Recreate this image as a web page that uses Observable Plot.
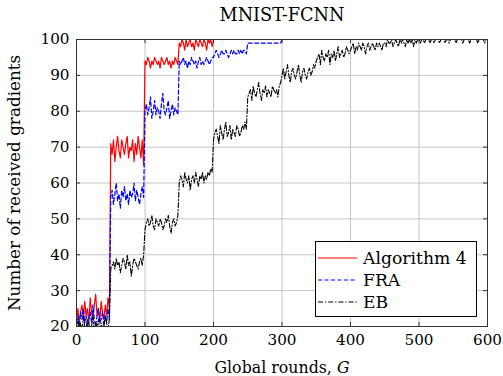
<!DOCTYPE html>
<html><head><meta charset="utf-8">
<script src="https://cdn.jsdelivr.net/npm/d3@7"></script>
<script src="https://cdn.jsdelivr.net/npm/@observablehq/plot@0.6"></script>
<style>
body{margin:0;background:#fff}
svg{display:block}
#chart svg, #chart svg text, #chart svg tspan, #chart svg g { font-family: "DejaVu Serif", serif !important; font-variant: normal !important; }
</style>
</head><body><div id="chart"></div>
<script>
const xTicks = [0, 100, 200, 300, 400, 500, 600];
const yTicks = [20, 30, 40, 50, 60, 70, 80, 90, 100];
const seriesNames = ["Algorithm 4", "FRA", "EB"];

// Algorithm 4: rounds 0..198 step 2, then 200 and 600
const alg4Rounds = [...d3.range(0, 200, 2), 200, 600];
const alg4 = [
  22,25,21,24,26,22,27,23,25,21,28,24,22,26,29,23,25,21,27,24,22,26,23,28,25,
  71,68,72,66,70,73,69,67,72,70,68,71,73,67,70,69,72,66,71,68,73,70,67,72,65,
  94,93,95,94,92,94,93,95,94,93,94,92,95,94,93,94,95,93,94,92,94,93,95,94,93,
  99,98,100,99,97,100,98,99,100,98,99,97,100,99,98,100,99,98,100,99,97,100,99,100,98,
  100,100
];

// FRA: rounds 0..298 step 2, then 300 and 600
const fraRounds = [...d3.range(0, 300, 2), 300, 600];
const fra = [
  21,23,20,24,22,25,21,23,20,22,24,21,26,22,20,23,25,21,22,24,20,23,21,25,22,
  56,58,54,57,60,55,57,53,58,56,59,55,57,54,58,56,57,60,55,58,56,54,57,59,56,
  80,82,79,81,84,78,80,83,79,81,80,78,82,85,80,79,81,83,78,80,82,79,81,80,79,
  94,93,94,95,93,94,92,94,93,95,94,93,94,92,94,95,93,94,93,94,95,94,93,94,95,
  95,96,97,96,95,96,97,96,96,97,96,95,96,97,96,97,96,96,97,96,97,96,97,97,96,
  99,99,99,99,99,99,99,99,99,99,99,99,99,99,99,99,99,99,99,99,99,99,99,99,99,
  100,100
];

// EB: rounds 0..598 step 2, then 600
const ebRounds = [...d3.range(0, 600, 2), 600];
const eb = [
  20,22,19,21,18,23,20,19,22,21,18,20,23,19,21,20,22,18,21,19,20,23,21,19,22,
  36,37,38,36,39,37,38,35,37,39,38,36,40,37,38,34,37,39,38,37,36,38,39,37,40,
  47,49,50,48,49,51,48,47,50,49,48,50,49,47,48,50,49,51,48,46,49,50,48,49,51,
  60,62,61,59,63,61,60,62,58,61,62,60,63,61,59,62,61,63,60,62,61,63,62,64,63,
  72,74,75,73,71,76,74,72,75,77,73,74,76,72,75,74,73,76,75,73,74,76,75,77,75,
  84,85,86,83,87,85,84,86,88,85,83,86,85,87,84,86,85,84,87,86,85,86,84,87,88,
  90,92,89,91,93,90,88,91,92,90,89,91,93,90,88,91,92,90,89,91,92,90,91,93,92,
  94,95,96,93,97,95,94,96,95,97,93,96,95,97,94,96,98,95,96,97,95,96,98,97,96,
  97,98,99,96,98,97,99,98,97,99,98,96,98,99,97,98,99,98,97,99,98,99,98,97,99,
  99,98,100,99,99,100,98,99,100,99,98,100,99,100,99,98,100,99,100,99,100,98,100,99,100,
  100,99,100,100,99,100,100,100,99,100,100,99,100,100,100,99,100,100,100,99,100,100,99,100,100,
  100,100,99,100,100,100,100,99,100,100,100,100,99,100,100,100,100,100,99,100,100,100,100,99,100,
  100
];

const toRows = (name, rounds, vals) => vals.map((v, i) => ({series: name, round: rounds[i], value: v}));
const alg4Data = toRows(seriesNames[0], alg4Rounds, alg4);
const fraData = toRows(seriesNames[1], fraRounds, fra);
const ebData = toRows(seriesNames[2], ebRounds, eb);

const W = 503, H = 376, mL = 76, mR = 16, mT = 39, mB = 50;
const fw = W - mL - mR, fh = H - mT - mB;
const gridColor = "#c4c4c4", axisColor = "#333";
const serif = "DejaVu Serif";

const styles = [
  {stroke: "#ff0000", dash: null},
  {stroke: "#0000ff", dash: "4,2.5"},
  {stroke: "#000000", dash: "5,2,1.2,2"}
];

const chart = Plot.plot({
  width: W, height: H,
  marginLeft: mL, marginRight: mR, marginTop: mT, marginBottom: mB,
  style: {fontFamily: serif, fontSize: "15px", background: "#fff", color: "#000"},
  x: {domain: [0, 600]},
  y: {domain: [20, 100]},
  marks: [
    Plot.gridX(xTicks, {stroke: gridColor, strokeOpacity: 1}),
    Plot.gridY(yTicks, {stroke: gridColor, strokeOpacity: 1}),
    Plot.line(alg4Data, {x: "round", y: "value", stroke: styles[0].stroke, strokeWidth: 1.2, clip: true}),
    Plot.line(fraData, {x: "round", y: "value", stroke: styles[1].stroke, strokeWidth: 1.2, strokeDasharray: styles[1].dash, clip: true}),
    Plot.line(ebData, {x: "round", y: "value", stroke: styles[2].stroke, strokeWidth: 1.1, strokeDasharray: styles[2].dash, clip: true}),
    Plot.tickY(yTicks, {y: d => d, insetRight: fw - 4, stroke: axisColor}),
    Plot.tickY(yTicks, {y: d => d, insetLeft: fw - 4, stroke: axisColor}),
    Plot.tickX(xTicks, {x: d => d, insetBottom: fh - 4, stroke: axisColor}),
    Plot.tickX(xTicks, {x: d => d, insetTop: fh - 4, stroke: axisColor}),
    Plot.frame({stroke: axisColor, strokeWidth: 1}),
    Plot.axisX(xTicks, {tickSize: 0, tickPadding: 8, label: null, fontSize: 15.2, fontFamily: serif}),
    Plot.axisY(yTicks, {tickSize: 0, tickPadding: 7, label: null, fontSize: 15.2, fontFamily: serif})
  ]
});

const svg = d3.select(chart);
const addText = (sel) => sel.attr("font-family", serif).style("font-family", serif).attr("fill", "#000");
// title
addText(svg.append("text")).attr("x", 282).attr("y", 20.5).attr("text-anchor", "middle")
  .attr("font-size", 17.7).text("MNIST-FCNN");
// x label
const xl = addText(svg.append("text")).attr("x", 282).attr("y", 373).attr("text-anchor", "middle")
  .attr("font-size", 15.8);
xl.append("tspan").text("Global rounds, ");
xl.append("tspan").attr("font-style", "italic").text("G");
// y label
addText(svg.append("text")).attr("transform", "translate(19.5,183) rotate(-90)").attr("text-anchor", "middle")
  .attr("font-size", 16.8).text("Number of received gradients");

// legend
const lg = svg.append("g");
lg.append("rect").attr("x", 315.5).attr("y", 241.5).attr("width", 161).attr("height", 75)
  .attr("fill", "#fff").attr("stroke", "#000").attr("stroke-width", 1);
seriesNames.forEach((name, i) => {
  const cy = 258 + i * 22;
  lg.append("line").attr("x1", 318).attr("x2", 357).attr("y1", cy).attr("y2", cy)
    .attr("stroke", styles[i].stroke).attr("stroke-width", 1.2)
    .attr("stroke-dasharray", styles[i].dash);
  addText(lg.append("text")).attr("x", 363).attr("y", cy).attr("dy", "0.36em").attr("text-anchor", "start")
    .attr("font-size", 17.2).text(name);
});

document.getElementById("chart").appendChild(chart);
</script>
</body></html>
